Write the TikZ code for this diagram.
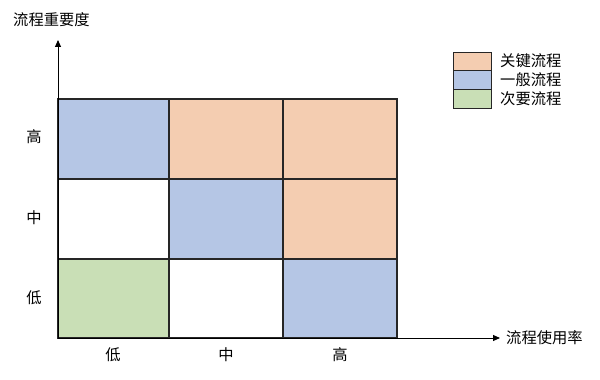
\documentclass[tikz,border=0pt]{standalone}
\usepackage{fontspec}
\setmainfont{Noto Sans CJK SC}
\usetikzlibrary{arrows.meta}
\definecolor{keyc}{HTML}{F4CDB1}
\definecolor{genc}{HTML}{B5C6E5}
\definecolor{minc}{HTML}{C9DFB6}
\definecolor{gridc}{HTML}{262626}
\begin{document}
\begin{tikzpicture}[x=1pt,y=1pt,
  cell/.style={draw=gridc,line width=1.2pt},
  lbl/.style={font=\fontsize{15.3}{17}\selectfont,inner sep=0pt},
  axis/.style={line width=0.9pt,-{Triangle[length=7pt,width=6pt]}}]
\useasboundingbox (0,0) rectangle (600,380);
% cells: columns x 58,169,283,397 ; rows y(top) 99,179,259,338
\fill[genc] (58,281) rectangle (169,201);
\fill[keyc] (169,281) rectangle (283,201);
\fill[keyc] (283,281) rectangle (397,201);
\fill[white] (58,201) rectangle (169,121);
\fill[genc] (169,201) rectangle (283,121);
\fill[keyc] (283,201) rectangle (397,121);
\fill[minc] (58,121) rectangle (169,42);
\fill[white] (169,121) rectangle (283,42);
\fill[genc] (283,121) rectangle (397,42);
\draw[cell] (58,42) rectangle (397,281);
\draw[cell] (169,42) -- (169,281);
\draw[cell] (283,42) -- (283,281);
\draw[cell] (58,121) -- (397,121);
\draw[cell] (58,201) -- (397,201);
% axes
\coordinate (o) at (58,42);
\coordinate (ytip) at (58,340);
\coordinate (xtip) at (500,42);
\draw[axis] (o) -- (ytip);
\draw[axis] (o) -- (xtip);
\node[lbl,anchor=west] (ylab) at (13,360) {流程重要度};
\node[lbl,anchor=west] (xlab) at (506,42) {流程使用率};
% row labels
\node[lbl] (rh) at (34,243) {高};
\node[lbl] (rm) at (34,162) {中};
\node[lbl] (rl) at (34,82) {低};
% column labels
\node[lbl] (cl) at (113,25) {低};
\node[lbl] (cm) at (226,25) {中};
\node[lbl] (ch) at (340,25) {高};
% legend
\draw[gridc,line width=0.9pt,fill=keyc] (453,328) rectangle (491,310);
\draw[gridc,line width=0.9pt,fill=genc] (453,310) rectangle (491,291);
\draw[gridc,line width=0.9pt,fill=minc] (453,291) rectangle (491,272);
\node[lbl,anchor=west] (l1) at (500,319) {关键流程};
\node[lbl,anchor=west] (l2) at (500,300.5) {一般流程};
\node[lbl,anchor=west] (l3) at (500,281.5) {次要流程};
\end{tikzpicture}
\end{document}
